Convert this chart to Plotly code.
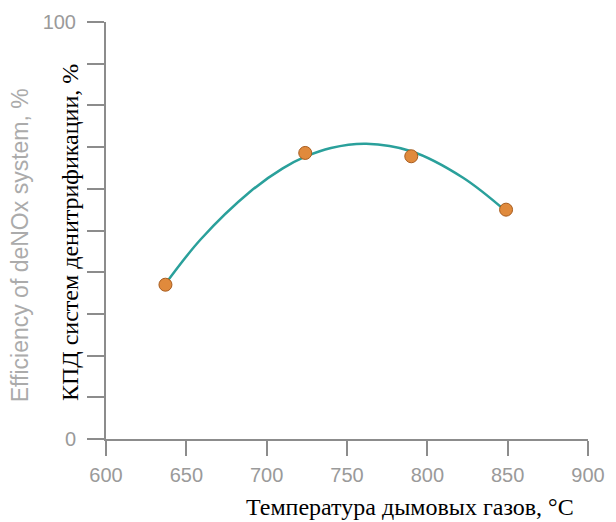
import plotly.graph_objects as go

# Measured points
temp_pts = [637, 724, 790, 849]
eff_pts = [37.0, 68.6, 67.8, 55.0]

# Trend curve samples
temp_curve = [637, 659, 690, 710, 724, 740, 762, 790, 822, 849]
eff_curve = [37.2, 47.9, 59.4, 64.9, 67.7, 69.8, 70.8, 69.0, 62.7, 54.6]

x_ticks = [600, 650, 700, 750, 800, 850, 900]
y_ticks = [0, 10, 20, 30, 40, 50, 60, 70, 80, 90, 100]
y_ticktext = ["0", "", "", "", "", "", "", "", "", "", "100"]

fig = go.Figure()
fig.add_trace(go.Scatter(x=temp_curve, y=eff_curve, mode="lines",
                         line=dict(color="#2AA09B", width=2.5, shape="spline"),
                         showlegend=False, hoverinfo="skip"))
fig.add_trace(go.Scatter(x=temp_pts, y=eff_pts, mode="markers",
                         marker=dict(color="#E08A3C", size=13,
                                     line=dict(color="#A85C1E", width=1)),
                         showlegend=False))

grey = "#8c8c8c"
tickgrey = "#9a9a9a"
# page body has an 8px default margin, so the figure is offset by 8px
fig.update_layout(
    width=608, height=514,
    margin=dict(l=98, r=28, t=14, b=83, autoexpand=False),
    paper_bgcolor="white", plot_bgcolor="white",
    font=dict(family="Liberation Sans, Arial, sans-serif", color=tickgrey, size=20),
    xaxis=dict(range=[600, 900], tickvals=x_ticks, showgrid=False, zeroline=False,
               automargin=False,
               showline=True, linecolor=grey, linewidth=2,
               ticks="outside", ticklen=15, tickcolor=grey, tickwidth=2,
               ticklabelstandoff=2,
               tickfont=dict(size=20, color=tickgrey)),
    yaxis=dict(range=[0, 100], tickvals=y_ticks, ticktext=y_ticktext,
               showgrid=False, zeroline=False, automargin=False,
               showline=True, linecolor=grey, linewidth=2,
               ticks="outside", ticklen=17, tickcolor=grey, tickwidth=2,
               ticklabelstandoff=7,
               tickfont=dict(size=20, color=tickgrey)),
    annotations=[
        dict(text="Efficiency of deNOx system, %", xref="paper", yref="paper",
             x=-0.178, y=0.465, xanchor="center", yanchor="middle", textangle=-90,
             showarrow=False, font=dict(size=23, color="#ababab",
                                        family="Liberation Sans, Arial, sans-serif")),
        dict(text="КПД систем денитрификации, %", xref="paper", yref="paper",
             x=-0.075, y=0.496, xanchor="center", yanchor="middle", textangle=-90,
             showarrow=False, bgcolor="white",
             font=dict(size=24, color="black",
                       family="Liberation Serif, Times New Roman, serif")),
        dict(text="Температура дымовых газов, °C", xref="paper", yref="paper",
             x=0.631, y=-0.198, xanchor="center", yanchor="bottom",
             showarrow=False, bgcolor="white",
             font=dict(size=24, color="black",
                       family="Liberation Serif, Times New Roman, serif")),
    ],
)

fig.write_html("out.html")
